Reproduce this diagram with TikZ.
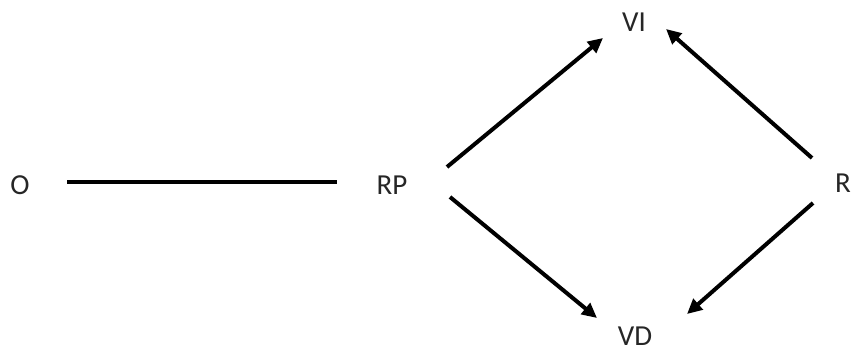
\documentclass[tikz,border=0pt]{standalone}
\usepackage{fontspec}
\setmainfont{Carlito}
\usetikzlibrary{arrows.meta,calc}
\begin{document}
\begin{tikzpicture}[x=1pt,y=1pt,
  lbl/.style={font=\fontsize{29}{31}\selectfont, text=black!85, inner sep=0pt},
  conn/.style={line width=4pt, black},
  arr/.style={conn, -{Triangle[length=15pt,width=14pt]}}]
\useasboundingbox (0,0) rectangle (851,351);
\node[lbl] (O) at (20,166) {O};
\node[lbl] (RP) at (392,166) {RP};
\node[lbl] (VI) at (634,329) {VI};
\node[lbl] (VD) at (635,15) {VD};
\node[lbl] (R) at (843,168) {R};
\draw[conn] ($(O)+(47,3)$) -- ($(RP)+(-55,3)$);
\draw[arr] ($(RP)+(55,18)$) -- ($(VI)+(-31,-16)$);
\draw[arr] ($(R)+(-31,25)$) -- ($(VI)+(32,-7)$);
\draw[arr] ($(RP)+(58,-12)$) -- ($(VD)+(-38,18)$);
\draw[arr] ($(R)+(-30,-20)$) -- ($(VD)+(52,22)$);
\end{tikzpicture}
\end{document}
